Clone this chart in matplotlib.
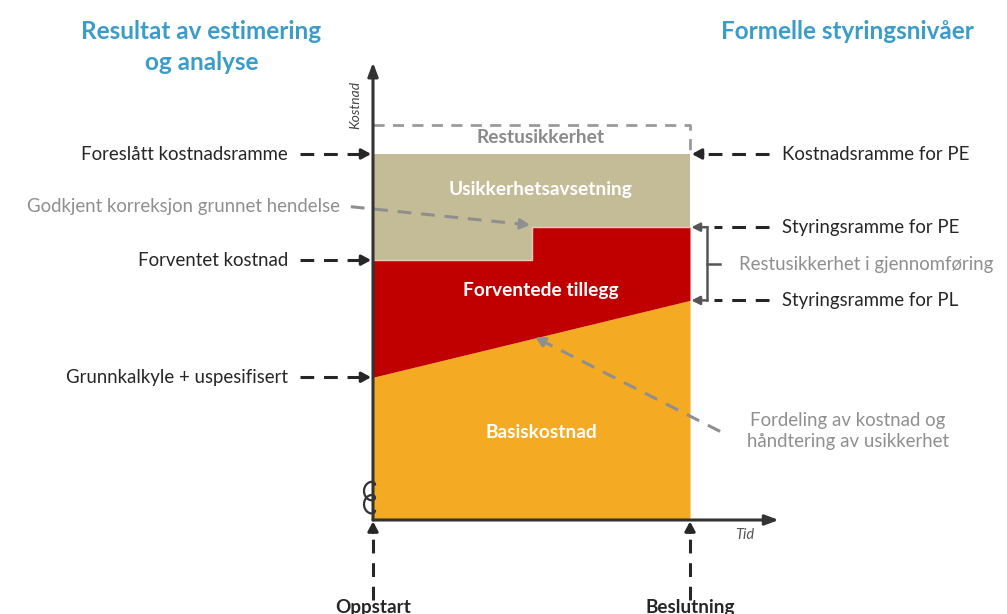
import numpy as np
import matplotlib.pyplot as plt

plt.rcParams['font.family'] = ['Lato', 'DejaVu Sans']

# time axis: 0 = Oppstart, 1 = Beslutning ; cost in relative units
t_points = [0.0, 0.5, 0.5, 1.0]
basis_start, basis_end = 39, 60          # Grunnkalkyle + uspesifisert -> Styringsramme for PL
expected = [71, 71, 80, 80]              # Forventet kostnad, then Styringsramme for PE
budget = 100                             # Kostnadsramme
rest_top = 108                           # Restusikkerhet
axis_top, time_tip = 125, 1.28

left_labels = ["Foreslått kostnadsramme", "Forventet kostnad", "Grunnkalkyle + uspesifisert"]
left_levels = [budget, expected[0], basis_start]
right_labels = ["Kostnadsramme for PE", "Styringsramme for PE", "Styringsramme for PL"]
right_levels = [budget, expected[-1], basis_end]

ORANGE = "#F4AA22"
RED = "#C00000"
TAN = "#C4BC96"
GRAY = "#8F8F8F"
DARK = "#262626"
BLUE = "#3A9CC9"
FS = 13.4

fig = plt.figure(figsize=(10.07, 6.14), dpi=100)
ax = fig.add_axes([0, 0, 1, 1])
ax.set_xlim(-373 / 317, 634 / 317)
ax.set_ylim(-94 / 3.66, 520 / 3.66)
ax.axis("off")


def dashed_arrow(x0, y0, x1, y1, color=DARK, lw=2.2, head=True):
    # dashed shaft, solid head
    x0, y0, x1, y1 = map(float, (x0, y0, x1, y1))
    px = ax.transData.transform([[x0, y0], [x1, y1]])
    d = np.hypot(*(px[1] - px[0]))
    f = 1 - 11 / d if head else 1
    xm, ym = x0 + (x1 - x0) * f, y0 + (y1 - y0) * f
    ax.plot([x0, xm], [y0, ym], color=color, lw=lw, dashes=(4.5, 3.2), solid_capstyle="butt",
            dash_capstyle="butt", zorder=5)
    if head:
        ax.annotate("", xy=(x1, y1), xytext=(xm, ym),
                    arrowprops=dict(arrowstyle="-|>,head_length=0.55,head_width=0.3", color=color,
                                    lw=lw, shrinkA=0, shrinkB=0), zorder=6)


# areas
tt = np.array([0.0, 1.0])
basis = np.array([basis_start, basis_end])
ax.fill_between(tt, 0, basis, color=ORANGE, lw=0, zorder=1)
tb = np.array(t_points)
basis_at = np.interp(tb, tt, basis)
ax.fill_between(tb, basis_at, expected, color=RED, lw=0, zorder=1)
ax.fill_between(tb, expected, budget, color=TAN, lw=0, zorder=1)
ax.plot(tb, expected, color="#E8C8C0", lw=1, zorder=2)

# rest uncertainty dashed box
ax.plot([0, 1, 1], [rest_top, rest_top, budget], color="#9A9A9A", lw=2, dashes=(4, 3), zorder=2)

# axes arrows
ax.annotate("", xy=(0, axis_top), xytext=(0, 0),
            arrowprops=dict(arrowstyle="-|>,head_length=0.8,head_width=0.3", color="#333333", lw=2.2,
                            shrinkA=0, shrinkB=0), zorder=7)
ax.annotate("", xy=(time_tip, 0), xytext=(0, 0),
            arrowprops=dict(arrowstyle="-|>,head_length=0.8,head_width=0.3", color="#333333", lw=2.2,
                            shrinkA=0, shrinkB=0), zorder=7)

# axis break squiggle (decorative loop glyph)
th = np.linspace(0, 4 * np.pi, 200)
sq_x = (-3.5 + 5.5 * np.cos(th)) / 317
sq_y = (2.1 * th - 5.5 * np.sin(th)) / 3.66 + 2.5
ax.plot(sq_x, sq_y, color="#333333", lw=1.6, zorder=8)

ax.text(-0.057, 113.5, "Kostnad", rotation=90, style="italic", fontsize=10, color="#444444",
        ha="center", va="center")
ax.text(1.172, -4.2, "Tid", style="italic", fontsize=10.5, color="#555555", ha="center", va="center")

# area labels
for lab, lev, col in [("Usikkerhetsavsetning", 90.2, "white"), ("Forventede tillegg", 62.6, "white"),
                      ("Basiskostnad", 23.8, "white"), ("Restusikkerhet", 104.4, "#8A8A8A")]:
    ax.text(0.53, lev, lab, color=col, fontsize=13.8, weight="bold", ha="center", va="center", zorder=4)

# left side labels
for lab, lev in zip(left_labels, left_levels):
    ax.text(-0.268, lev, lab, fontsize=FS, color=DARK, ha="right", va="center")
    dashed_arrow(-0.23, lev, -0.006, lev)
ax.text(-0.105, 85.6, "Godkjent korreksjon grunnet hendelse", fontsize=FS, color=GRAY, ha="right",
        va="center")
dashed_arrow(-0.07, 85.6, 0.495, 80.6, color=GRAY)

# right side labels
for lab, lev in zip(right_labels, right_levels):
    ax.text(1.29, lev, lab, fontsize=FS, color=DARK, ha="left", va="center")
dashed_arrow(1.25, budget, 1.006, budget)
for lev in right_levels[1:]:
    dashed_arrow(1.25, lev, 1.075, lev, head=False)

# bracket
bx = 1.055
ax.plot([bx, bx], [right_levels[2], right_levels[1]], color="#555555", lw=1.8, zorder=5)
ax.plot([bx, bx + 0.04], [np.mean(right_levels[1:])] * 2, color="#555555", lw=1.8, zorder=5)
for lev in right_levels[1:]:
    ax.annotate("", xy=(1.004, lev), xytext=(bx, lev),
                arrowprops=dict(arrowstyle="-|>,head_length=0.5,head_width=0.25", color="#555555", lw=1.8,
                                shrinkA=0, shrinkB=0), zorder=6)
ax.text(1.155, np.mean(right_levels[1:]) - 0.3, "Restusikkerhet i gjennomføring", fontsize=FS, color=GRAY,
        ha="left", va="center")

ax.text(1.498, 24.3, "Fordeling av kostnad og\nhåndtering av usikkerhet", fontsize=FS, color=GRAY,
        ha="center", va="center", linespacing=1.3)
dashed_arrow(1.095, 24.2, 0.512, 49.9, color=GRAY)

# bottom milestones
for tm, lab in zip([0, 1], ["Oppstart", "Beslutning"]):
    dashed_arrow(tm, -21.8, tm, -0.4)
    ax.text(tm, -25.4, lab, fontsize=13.6, weight="bold", color=DARK, ha="center", va="baseline")

# headers
ax.text(-0.541, 133.6, "Resultat av estimering", fontsize=17.5, weight="bold", color=BLUE, ha="center",
        va="center")
ax.text(-0.541, 124.9, "og analyse", fontsize=17.5, weight="bold", color=BLUE, ha="center", va="center")
ax.text(1.498, 133.6, "Formelle styringsnivåer", fontsize=17.5, weight="bold", color=BLUE, ha="center",
        va="center")

fig.savefig("out.png", dpi=100)
